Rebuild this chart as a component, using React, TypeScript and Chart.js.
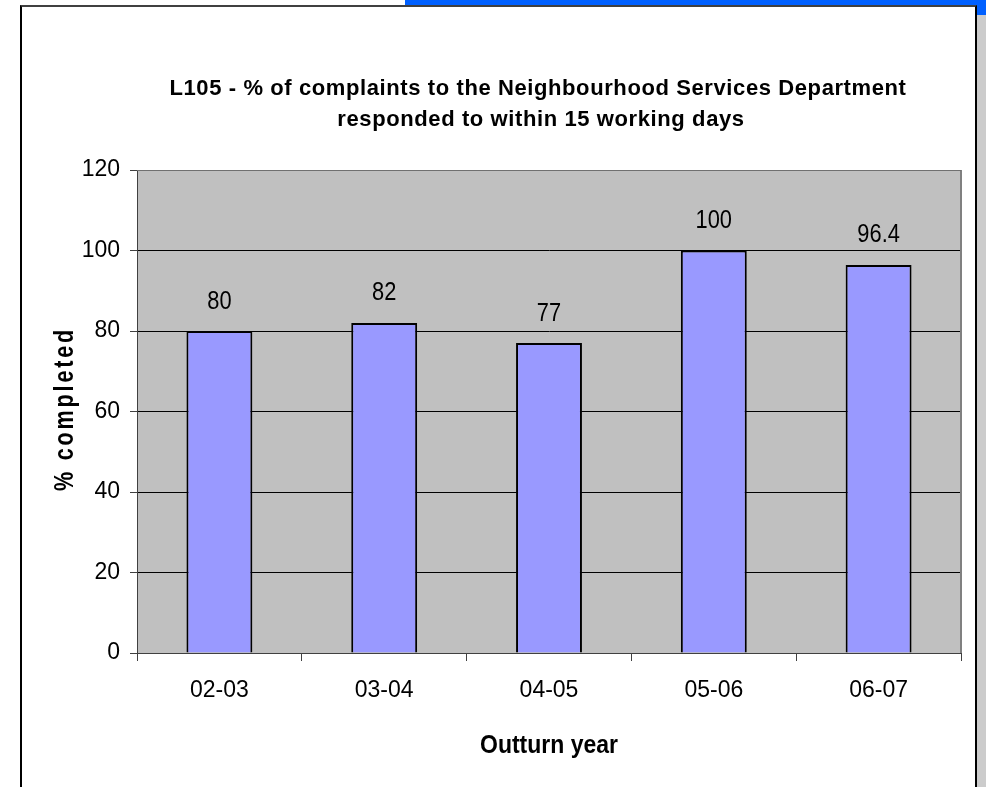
import React, { useEffect, useRef } from "react";
import { Chart, registerables } from "chart.js";

Chart.register(...registerables);

const categories = ["02-03", "03-04", "04-05", "05-06", "06-07"];
const values = [80, 82, 77, 100, 96.4];
const valueLabels = ["80", "82", "77", "100", "96.4"];
const yMin = 0;
const yMax = 120;
const yStep = 20;
const titleLines = [
  "L105 - % of complaints to the Neighbourhood Services Department",
  "responded to within 15 working days",
];
const xTitle = "Outturn year";
const yTitle = "% completed";

const FAMILY = "'Liberation Sans', Arial, sans-serif";

function scaledText(ctx: any, text: string, x: number, y: number, sx: number) {
  ctx.save();
  ctx.translate(x, y);
  ctx.scale(sx, 1);
  ctx.fillText(text, 0, 0);
  ctx.restore();
}

const decorPlugin = {
  id: "decor",
  beforeDraw(chart: any) {
    const { ctx, chartArea } = chart;
    ctx.save();
    ctx.fillStyle = "#C0C0C0";
    ctx.fillRect(chartArea.left, chartArea.top, chartArea.right - chartArea.left, chartArea.bottom - chartArea.top);
    ctx.restore();
  },
  beforeDatasetsDraw(chart: any) {
    const { ctx, chartArea } = chart;
    ctx.save();
    ctx.strokeStyle = "#808080";
    ctx.lineWidth = 2;
    ctx.beginPath();
    ctx.moveTo(chartArea.right, chartArea.top);
    ctx.lineTo(chartArea.right, chartArea.bottom);
    ctx.stroke();
    ctx.strokeStyle = "#707070";
    ctx.lineWidth = 1;
    ctx.beginPath();
    ctx.moveTo(chartArea.left, chartArea.top + 0.5);
    ctx.lineTo(chartArea.right, chartArea.top + 0.5);
    ctx.stroke();
    ctx.restore();
  },
  afterDraw(chart: any) {
    const { ctx, chartArea } = chart;
    ctx.save();
    ctx.fillStyle = "#000";
    ctx.textAlign = "center";
    ctx.textBaseline = "alphabetic";
    // Title
    ctx.font = `bold 22px ${FAMILY}`;
    ctx.letterSpacing = "0.6px";
    ctx.fillText(titleLines[0], 538, 95);
    ctx.fillText(titleLines[1], 541, 126);
    ctx.letterSpacing = "0px";
    // X title
    ctx.font = `bold 25px ${FAMILY}`;
    scaledText(ctx, xTitle, (chartArea.left + chartArea.right) / 2, 753, 0.92);
    // Y title
    ctx.save();
    ctx.translate(73, 409);
    ctx.rotate(-Math.PI / 2);
    ctx.scale(0.8, 1);
    ctx.font = `bold 27px ${FAMILY}`;
    ctx.letterSpacing = "3.5px";
    ctx.fillText(yTitle, 0, 0);
    ctx.restore();
    ctx.letterSpacing = "0px";
    // Data labels
    ctx.font = `26px ${FAMILY}`;
    const meta = chart.getDatasetMeta(0);
    meta.data.forEach((bar: any, i: number) => {
      scaledText(ctx, valueLabels[i], bar.x, bar.y - 22.5, 0.84);
    });
    ctx.restore();
  },
};

export default function App() {
  const canvasRef = useRef<HTMLCanvasElement | null>(null);

  useEffect(() => {
    if (!canvasRef.current) return;
    const chart = new Chart(canvasRef.current, {
      type: "bar",
      data: {
        labels: categories,
        datasets: [
          {
            data: values,
            backgroundColor: "#9999FF",
            borderColor: "#000000",
            borderWidth: 2,
            categoryPercentage: 1,
            barPercentage: 0.4,
          },
        ],
      },
      options: {
        responsive: false,
        animation: false,
        devicePixelRatio: 1,
        layout: { padding: { top: 170, right: 25, left: 0, bottom: 0 } },
        plugins: {
          legend: { display: false },
          tooltip: { enabled: false },
          title: { display: false },
        },
        scales: {
          x: {
            grid: {
              display: true,
              drawOnChartArea: false,
              drawTicks: true,
              tickLength: 8,
              color: "#404040",
              offset: true,
            },
            border: { color: "#404040", width: 1 },
            ticks: {
              color: "#000",
              font: { family: FAMILY, size: 23 },
              padding: 16,
              maxRotation: 0,
            },
            afterFit: (s: any) => {
              s.height = 134;
            },
          },
          y: {
            min: yMin,
            max: yMax,
            grid: { color: "#000000", tickColor: "#404040", tickLength: 7, lineWidth: 1 },
            border: { color: "#404040", width: 1 },
            ticks: {
              stepSize: yStep,
              color: "#000",
              font: { family: FAMILY, size: 23 },
              padding: 10,
            },
            afterFit: (s: any) => {
              s.width = 137;
            },
          },
        },
      },
      plugins: [decorPlugin],
    });
    return () => chart.destroy();
  }, []);

  return (
    <div style={{ position: "absolute", left: 0, top: 0, width: 986, height: 787, background: "#fff", overflow: "hidden" }}>
      <div style={{ position: "absolute", left: 405, top: 0, width: 581, height: 6, background: "#0060FF" }} />
      <div style={{ position: "absolute", left: 977, top: 0, width: 9, height: 15, background: "#0060FF" }} />
      <div style={{ position: "absolute", left: 977, top: 15, width: 9, height: 772, background: "#CCCCCC" }} />
      <div
        style={{
          position: "absolute",
          left: 20,
          top: 5,
          width: 953,
          height: 800,
          borderLeft: "2px solid #000",
          borderRight: "2px solid #000",
          borderTop: "2px solid #404040",
          background: "#fff",
        }}
      />
      <canvas ref={canvasRef} width={986} height={787} style={{ position: "absolute", left: 0, top: 0, width: 986, height: 787 }} />
    </div>
  );
}
